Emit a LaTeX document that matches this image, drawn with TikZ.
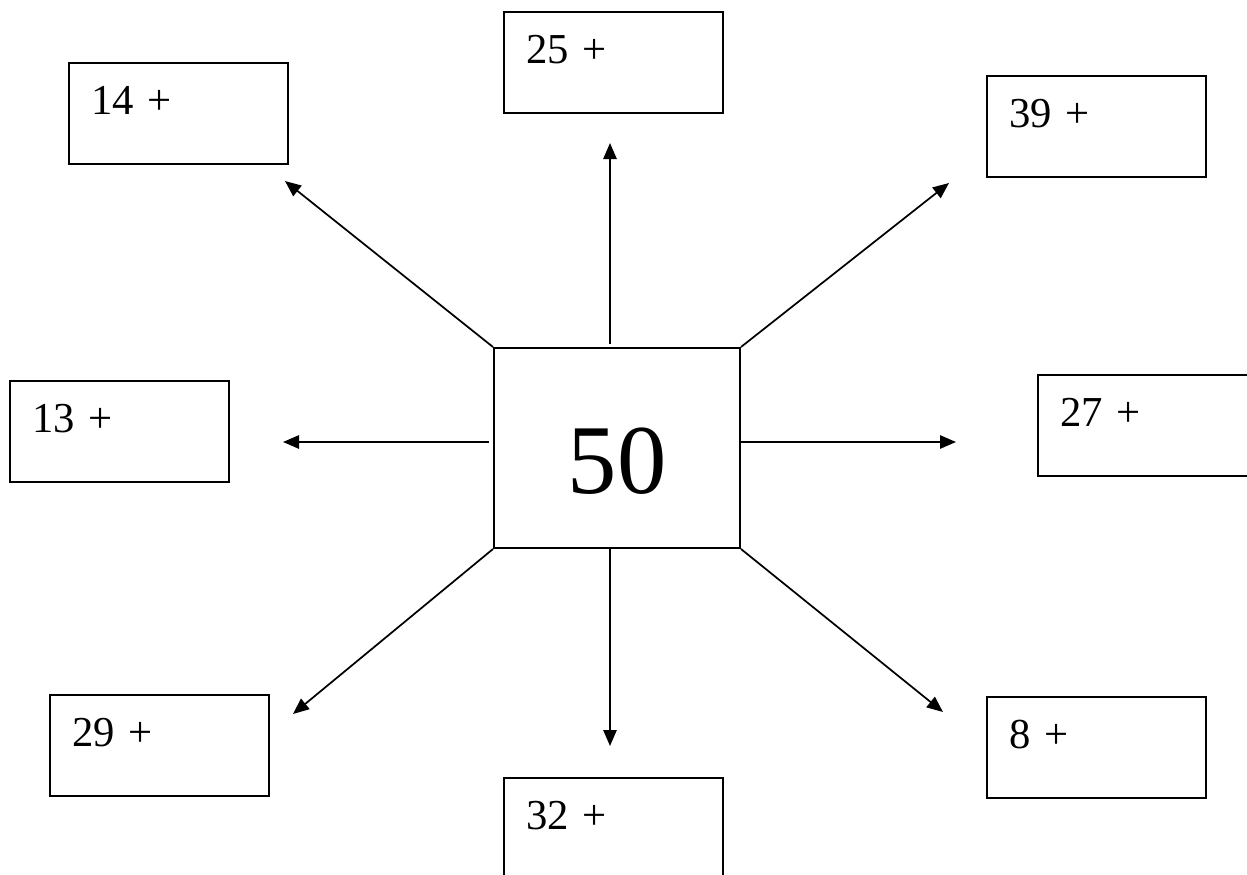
\documentclass[tikz,border=0pt]{standalone}
\usepackage{fontspec}
\setmainfont{Liberation Serif}
\usetikzlibrary{arrows.meta}

\begin{document}
\begin{tikzpicture}[x=0.75pt,y=-0.75pt,>={Triangle[length=12pt,width=10pt]},
		addend/.style={draw, line width=1.5pt, anchor=north west, align=left,
			inner xsep=16.5pt, inner ysep=0pt, text width=131.25pt,
			text height=38.25pt, text depth=37.5pt, font=\fontsize{32}{38}\selectfont},
		total/.style={draw, line width=1.5pt, inner sep=0pt, minimum width=184.5pt,
			text height=108.75pt, text depth=41.25pt, font=\fontsize{74}{80}\selectfont}]
		\useasboundingbox (0,0) rectangle (1247,875);
		\clip (0,0) rectangle (1247,875);
		
		\node[total] (c) at (617,448) {50};
		
		\node[addend] (b14) at (68,62) {14 +};
		\node[addend] (b25) at (503,11) {25 +};
		\node[addend] (b39) at (986,75) {39 +};
		\node[addend] (b13) at (9,380) {13 +};
		\node[addend] (b27) at (1037,374) {27 +};
		\node[addend] (b29) at (49,694) {29 +};
		\node[addend] (b32) at (503,777) {32 +};
		\node[addend] (b8) at (986,696) {8 +};
		
		\coordinate (t14) at (285,181);
		\coordinate (t25) at (610,143);
		\coordinate (t39) at (949,183);
		\coordinate (t13) at (283,442);
		\coordinate (t27) at (956,442);
		\coordinate (t29) at (293,714);
		\coordinate (t32) at (610,746);
		\coordinate (t8) at (943,712);
		
		\path[->, line width=1.3pt]
		(c.north west) edge (t14)
		([xshift=-5.25pt,yshift=2pt]c.north) edge (t25)
		(c.north east) edge (t39)
		([xshift=-3pt,yshift=4.5pt]c.west) edge (t13)
		([xshift=-1.5pt,yshift=4.5pt]c.east) edge (t27)
		(c.south west) edge (t29)
		([xshift=-5.25pt]c.south) edge (t32)
		(c.south east) edge (t8);
	\end{tikzpicture}
\end{document}
